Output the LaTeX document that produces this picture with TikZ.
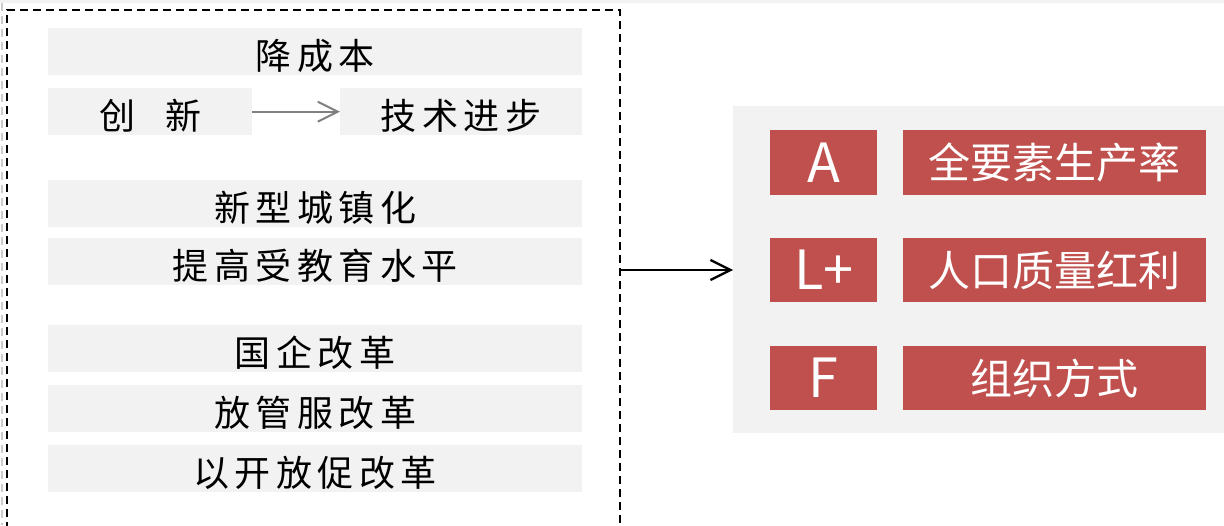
\documentclass[tikz,border=0pt]{standalone}
\usepackage{fontspec}
\newfontfamily\cjk{Noto Sans CJK SC}
\usetikzlibrary{arrows.meta}
\definecolor{bargray}{HTML}{F2F2F2}
\definecolor{redbox}{HTML}{C0504D}
\definecolor{arrowgray}{HTML}{808080}
\newcommand\lsp{\hspace{5.5pt}}
\tikzset{
  bar/.style={fill=bargray, draw=none, inner sep=0pt, minimum height=47pt,
    anchor=north west, text=black, text height=38pt, text depth=3pt,
    font=\cjk\fontsize{36}{40}\selectfont},
  redlbl/.style={fill=redbox, draw=none, inner sep=0pt, anchor=north west,
    text=white, text height=36pt, text depth=3.5pt,
    font=\cjk\fontsize{42}{48}\selectfont},
  redletter/.style={redlbl, font=\cjk\fontsize{54}{60}\selectfont,
    text height=39.5pt, text depth=0pt},
  frame/.style={dash pattern=on 8pt off 5pt, line width=1.3pt},
  grayarrow/.style={arrowgray, line width=2pt, -{Straight Barb[length=20pt,width=20pt,line width=2pt]}},
  blackarrow/.style={black, line width=2.3pt, -{Straight Barb[length=20pt,width=20pt,line width=2.3pt]}}
}
\begin{document}
\begin{tikzpicture}[x=1pt,y=-1pt]
\useasboundingbox (0,0) rectangle (1224,525);
% top strip and left edge artifact
\fill[bargray] (0,0) rectangle (1224,3);
\draw[color=gray!40, line width=2pt, dash pattern=on 8pt off 5pt] (1.5,3) -- (1.5,525);
% dashed frame (open at bottom)
\draw[frame] (7,530) -- (7,10) -- (620,10) -- (620,530);
\coordinate (frameR) at (620,270);
% left bars
\node[bar, minimum width=534pt] (jcb) at (48,28) {降\lsp 成\lsp 本};
\node[bar, minimum width=204pt] (cx) at (48,88) {创\hspace{30pt}新};
\node[bar, minimum width=242pt] (jsjb) at (340,88) {技\lsp 术\lsp 进\lsp 步};
\node[bar, minimum width=534pt] (xxcz) at (48,180) {新\lsp 型\lsp 城\lsp 镇\lsp 化};
\node[bar, minimum width=534pt] (tgsj) at (48,238) {提\lsp 高\lsp 受\lsp 教\lsp 育\lsp 水\lsp 平};
\node[bar, minimum width=534pt] (gqgg) at (48,325) {国\lsp 企\lsp 改\lsp 革};
\node[bar, minimum width=534pt] (fgf) at (48,385) {放\lsp 管\lsp 服\lsp 改\lsp 革};
\node[bar, minimum width=534pt] (ykf) at (48,445) {以\lsp 开\lsp 放\lsp 促\lsp 改\lsp 革};
\draw[grayarrow] (cx.east) -- (jsjb.west);
% right panel
\node[fill=bargray, draw=none, inner sep=0pt, anchor=north west,
  minimum width=500pt, minimum height=327pt] (panel) at (733,106) {};
\node[redletter, minimum width=107pt, minimum height=65pt] (la) at (770,130) {A};
\node[redlbl, minimum width=303pt, minimum height=65pt] (ta) at (903,130) {全要素生产率};
\node[redletter, minimum width=107pt, minimum height=64pt] (ll) at (770,238) {L+};
\node[redlbl, minimum width=303pt, minimum height=64pt] (tl) at (903,238) {人口质量红利};
\node[redletter, minimum width=107pt, minimum height=64pt] (lf) at (770,346) {F};
\node[redlbl, minimum width=303pt, minimum height=64pt] (tf) at (903,346) {组织方式};
\draw[blackarrow] (frameR) -- (panel.west |- frameR);
\end{tikzpicture}
\end{document}
